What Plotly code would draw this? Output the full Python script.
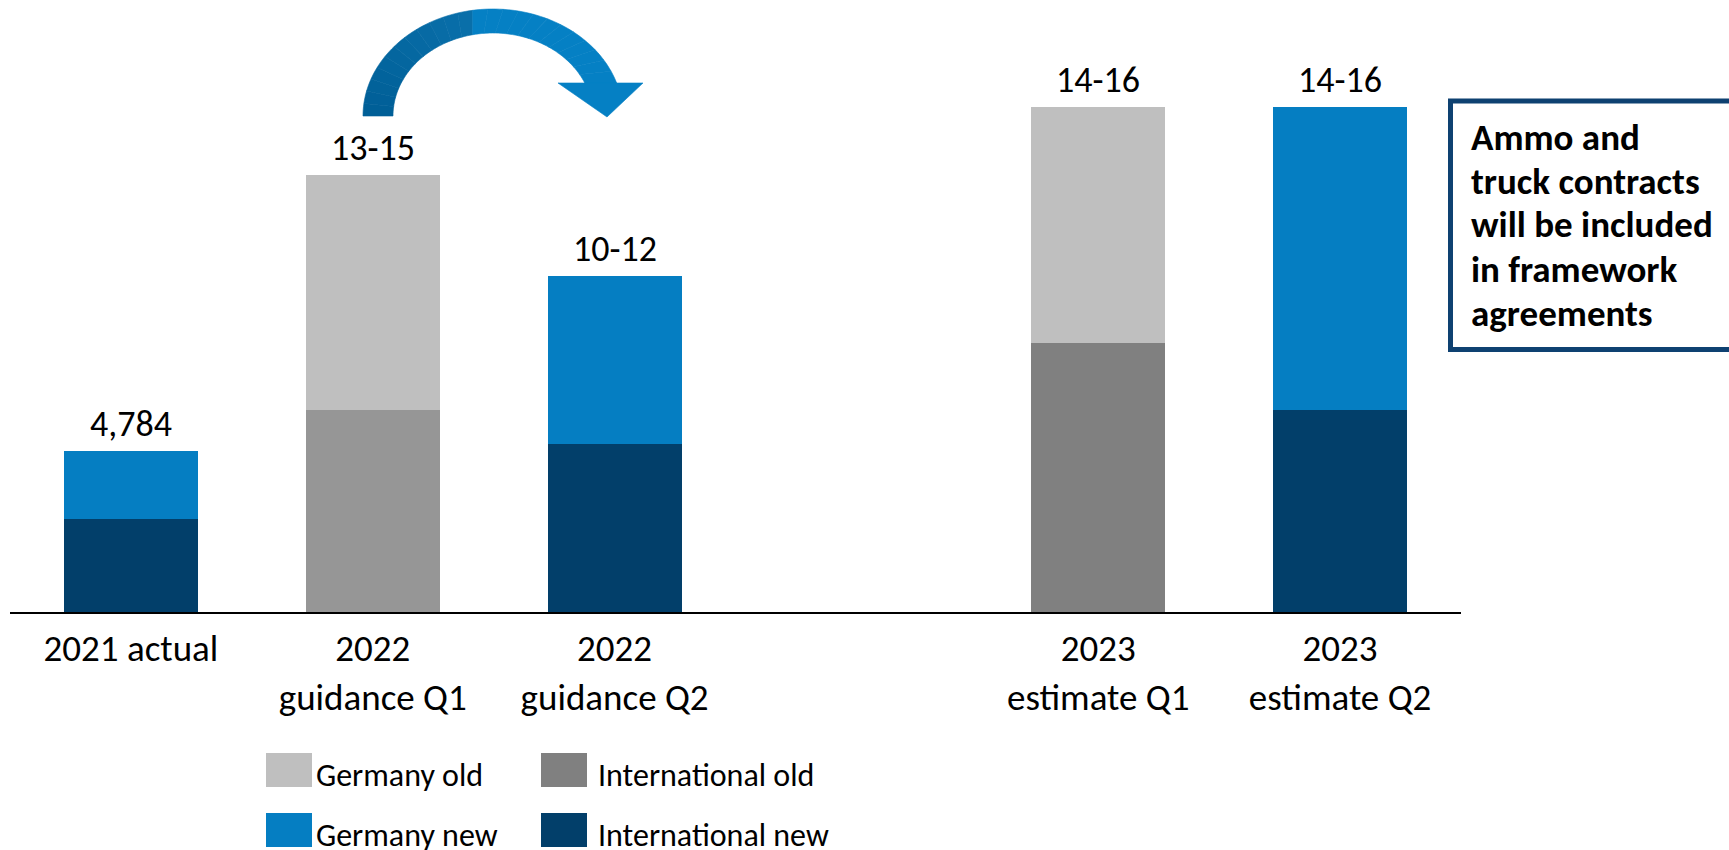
import math
import plotly.graph_objects as go

# Order intake by period (EUR bn), stacked by region and contract type
periods = ["2021 actual", "2022<br>guidance Q1", "2022<br>guidance Q2",
           "2023<br>estimate Q1", "2023<br>estimate Q2"]
axis_order = ["2021 actual", "2022<br>guidance Q1", "2022<br>guidance Q2", " ",
              "2023<br>estimate Q1", "2023<br>estimate Q2"]

international_old = [None, 6.0, None, 8.0, None]
international_new = [2.75, None, 5.0, None, 6.0]
germany_old = [None, 7.0, None, 7.0, None]
germany_new = [2.034, None, 5.0, None, 9.0]

total_labels = ["4,784", "13-15", "10-12", "14-16", "14-16"]
note_lines = ["Ammo and", "truck contracts", "will be included",
              "in framework", "agreements"]

FONT = "Calibri, Carlito, Lato, sans-serif"
C_GER_OLD = "#BFBFBF"
C_INT_OLD = "#808080"
C_INT_OLD_2022 = "#969696"
C_GER_NEW = "#057EC2"
C_INT_NEW = "#023F6A"

W, H = 1729, 850
ML, MR, MT, MB = 10, 268, 10, 238
PW, PH = W - ML - MR, H - MT - MB
YMAX = PH / 33.65


def px(x, y):
    """Pixel position -> paper coordinates."""
    return (x - ML) / PW, (H - MB - y) / PH


fig = go.Figure()

series = [
    ("International old", international_old,
     [C_INT_OLD_2022 if p.startswith("2022") else C_INT_OLD for p in periods], C_INT_OLD),
    ("International new", international_new, C_INT_NEW, C_INT_NEW),
    ("Germany old", germany_old, C_GER_OLD, C_GER_OLD),
    ("Germany new", germany_new, C_GER_NEW, C_GER_NEW),
]
for name, vals, col, _ in series:
    fig.add_trace(go.Bar(x=periods, y=vals, name=name, marker_color=col,
                         marker_line_width=0, showlegend=False))

# Totals above bars
totals = [sum(v[i] or 0 for _, v, _, _ in series) for i in range(len(periods))]
for p, t, lab in zip(periods, totals, total_labels):
    fig.add_annotation(x=p, y=t, text=lab, showarrow=False, yanchor="middle",
                       yshift=27, font=dict(family=FONT, size=36, color="black"))

shapes = []

# Curved arrow from Q1 guidance to Q2 guidance
cx, cy = 493, 116
ro_x, ro_y = 130, 107
ri_x, ri_y = 100, 83
end_dy = 33
a_end_o = math.asin(end_dy / ro_y)
a_end_i = math.asin(end_dy / ri_y)


def lerp_col(c1, c2, t):
    a = [int(c1[i:i + 2], 16) for i in (1, 3, 5)]
    b = [int(c2[i:i + 2], 16) for i in (1, 3, 5)]
    return "#" + "".join(f"{round(a[k] + (b[k] - a[k]) * t):02x}" for k in range(3))


n_seg = 24
for s in range(n_seg):
    t0, t1 = s / n_seg, (s + 1) / n_seg
    ao0 = math.pi - t0 * (math.pi - a_end_o)
    ao1 = math.pi - t1 * (math.pi - a_end_o)
    ai0 = math.pi - t0 * (math.pi - a_end_i)
    ai1 = math.pi - t1 * (math.pi - a_end_i)
    pts = []
    steps = 4
    for k in range(steps + 1):
        a = ao0 + (ao1 - ao0) * k / steps
        pts.append(px(cx + ro_x * math.cos(a), cy - ro_y * math.sin(a)))
    for k in range(steps + 1):
        a = ai1 + (ai0 - ai1) * k / steps
        pts.append(px(cx + ri_x * math.cos(a), cy - ri_y * math.sin(a)))
    path = "M " + " L ".join(f"{x:.5f},{y:.5f}" for x, y in pts) + " Z"
    if t0 < 0.5:
        col = lerp_col("#005F97", "#0A70AB", t0 / 0.5)
    else:
        col = "#0580C4"
    shapes.append(dict(type="path", path=path, xref="paper", yref="paper",
                       fillcolor=col, line=dict(color=col, width=0.6), layer="above"))

head = [px(558, 83), px(643, 83), px(607, 117)]
shapes.append(dict(type="path", xref="paper", yref="paper", layer="above",
                   path="M " + " L ".join(f"{x:.5f},{y:.5f}" for x, y in head) + " Z",
                   fillcolor="#0580C4", line=dict(color="#0580C4", width=0.6)))

# Note box
bx0, by0 = px(1450.5, 101)
bx1, by1 = px(1745, 349.5)
shapes.append(dict(type="rect", xref="paper", yref="paper", x0=bx0, x1=bx1, y0=by1, y1=by0,
                   line=dict(color="#0E4171", width=5), fillcolor="rgba(0,0,0,0)"))
for i, ln in enumerate(note_lines):
    nx, ny = px(1469, 137 + 44 * i)
    fig.add_annotation(xref="paper", yref="paper", x=nx, y=ny, xanchor="left", yanchor="middle",
                       align="left", showarrow=False, text=f"<b>{ln}</b>",
                       font=dict(family=FONT, size=37, color="black"))

# Legend drawn as a 2x2 grid: (square left, square top, text offset)
legend_pos = {
    "Germany old": (266, 753, 48),
    "International old": (541, 753, 55),
    "Germany new": (266, 813, 48),
    "International new": (541, 813, 55),
}
for name, _, _, lcol in series:
    lx, ly, dx = legend_pos[name]
    x0, y0 = px(lx, ly)
    x1, y1 = px(lx + 46, ly + 34)
    shapes.append(dict(type="rect", xref="paper", yref="paper", x0=x0, x1=x1, y0=y1, y1=y0,
                       fillcolor=lcol, line=dict(width=0)))
    tx, ty = px(lx + dx, ly + 22)
    fig.add_annotation(xref="paper", yref="paper", x=tx, y=ty, xanchor="left", yanchor="middle",
                       showarrow=False, text=name,
                       font=dict(family=FONT, size=32, color="black"))

fig.update_layout(
    width=W, height=H,
    margin=dict(l=ML, r=MR, t=MT, b=MB, pad=0),
    barmode="stack", bargap=0.446,
    plot_bgcolor="white", paper_bgcolor="white",
    shapes=shapes,
    xaxis=dict(type="category", categoryorder="array", categoryarray=axis_order,
               range=[-0.5, 5.5], showline=True, linecolor="black", linewidth=2,
               showgrid=False, ticks="", ticklabelstandoff=3,
               tickfont=dict(family=FONT, size=37, color="black")),
    yaxis=dict(range=[0, YMAX], visible=False, showgrid=False),
)

fig.write_html("out.html")
